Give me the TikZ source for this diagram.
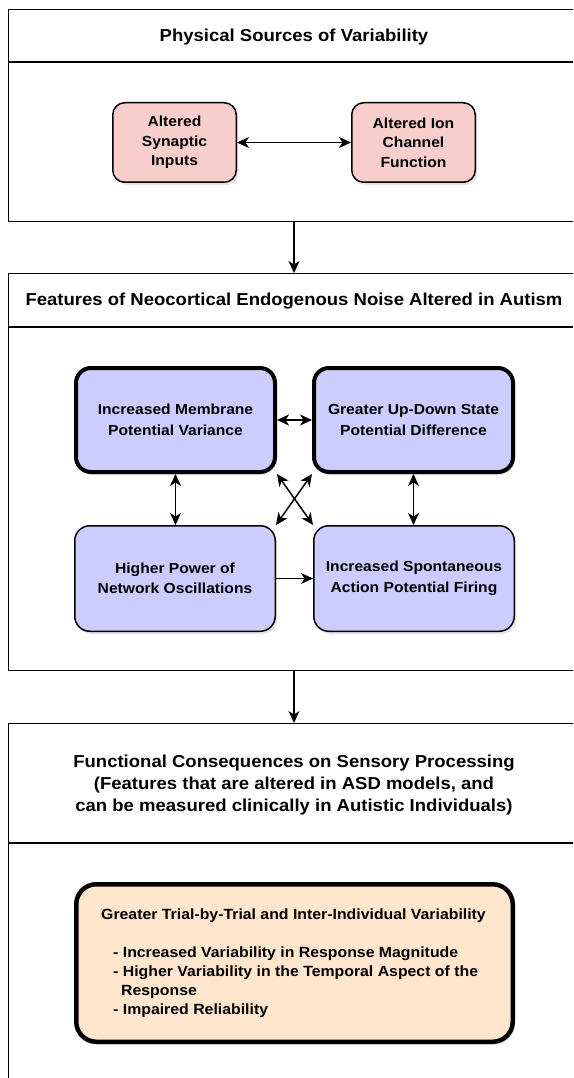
\documentclass[tikz,border=0pt]{standalone}
\usepackage{fontspec}
\setmainfont{Liberation Sans}[FakeStretch=1.07]
\usetikzlibrary{arrows.meta,shadows,positioning}

\definecolor{pinkfill}{HTML}{F8CECC}
\definecolor{bluefill}{HTML}{CCCCFF}
\definecolor{orangefill}{HTML}{FFE6CC}

\tikzset{
	panel/.style={draw, line width=1.4pt, anchor=north west, minimum width=620pt, inner sep=0pt},
	divider/.style={line width=1.4pt},
	paneltitle/.style={font=\bfseries\fontsize{17.3}{22}\selectfont, align=center},
	boxshadow/.style={drop shadow={shadow xshift=2pt, shadow yshift=-3pt, opacity=0.2}},
	srcbox/.style={draw, fill=pinkfill, line width=1.5pt, rounded corners=12pt, minimum width=123.5pt, minimum height=79.5pt, align=center, boxshadow, font=\bfseries\fontsize{14.6}{19.5}\selectfont},
	featbox/.style={draw, fill=bluefill, line width=1.5pt, rounded corners=15pt, minimum width=200.5pt, minimum height=105.5pt, align=center, boxshadow, font=\bfseries\fontsize{14.6}{20.5}\selectfont},
	heavy/.style={line width=4pt, minimum width=199pt, minimum height=104pt},
	outbox/.style={draw, fill=orangefill, line width=4.5pt, rounded corners=20pt, minimum width=436.5pt, minimum height=157.5pt, boxshadow},
	conn/.style={line width=1.5pt},
}

\begin{document}
\begin{tikzpicture}[x=1pt, y=-1pt, >={Stealth[length=12pt,width=11pt,inset=3.5pt]}]
	\clip (0,0) rectangle (573,1078);
	\fill[white] (0,0) rectangle (573,1078);

	%physical sources
	\node[panel, minimum height=212pt] (srcpanel) at (8,9) {};
	\draw[divider] (8,62) -- (600,62);
	\node[paneltitle] (srctitle) at (294,37) {Physical Sources of Variability};
	\node[srcbox] (synaptic) at (174.5,142.5) {Altered\\Synaptic\\Inputs};
	\node[srcbox] (channel) at (413.5,142.5) {Altered Ion\\Channel\\Function};
	\draw[<->, conn] (synaptic) -- (channel);

	%endogenous noise
	\node[panel, minimum height=397pt] (noisepanel) at (8,273) {};
	\draw[divider] (8,327) -- (600,327);
	\node[paneltitle] (noisetitle) at (294,301) {Features of Neocortical Endogenous Noise Altered in Autism};
	\node[featbox, heavy] (membrane) at (175.5,420) {Increased Membrane\\Potential Variance};
	\node[featbox, heavy] (updown) at (413.5,420) {Greater Up-Down State\\Potential Difference};
	\node[featbox] (oscill) at (175,578.5) {Higher Power of\\Network Oscillations};
	\node[featbox] (firing) at (414,578.5) {Increased Spontaneous\\Action Potential Firing};
	\draw[<->, conn] (membrane) -- (updown);
	\draw[<->, conn] (membrane) -- (membrane |- oscill.north);
	\draw[<->, conn] (updown) -- (updown |- firing.north);
	\draw[->, conn] (oscill) -- (firing);
	\draw[<->, conn] (membrane.south east) -- (firing.north west);
	\draw[<->, conn] (updown.south west) -- (oscill.north east);

	\draw[->, conn] (srcpanel.south -| srctitle) -- (noisepanel.north -| srctitle);

	%functional consequences
	\node[panel, minimum height=420pt] (conspanel) at (8,723) {};
	\draw[divider] (8,843) -- (600,843);
	\node[paneltitle] (constitle) at (294,785)
		{Functional Consequences on Sensory Processing\\(Features that are altered in ASD models, and\\can be measured clinically in Autistic Individuals)};
	\node[outbox] (variab) at (294.5,963) {};
	\node[font=\bfseries\fontsize{14.8}{19}\selectfont, align=left, anchor=north west, inner sep=0pt] (variabtext) at (101,909)
		{Greater Trial-by-Trial and Inter-Individual Variability\\[19pt]
		\hspace*{12pt}- Increased Variability in Response Magnitude\\
		\hspace*{12pt}- Higher Variability in the Temporal Aspect of the\\
		\hspace*{20pt}Response\\
		\hspace*{12pt}- Impaired Reliability};

	\draw[->, conn] (noisepanel.south -| noisetitle) -- (conspanel.north -| noisetitle);
\end{tikzpicture}
\end{document}
